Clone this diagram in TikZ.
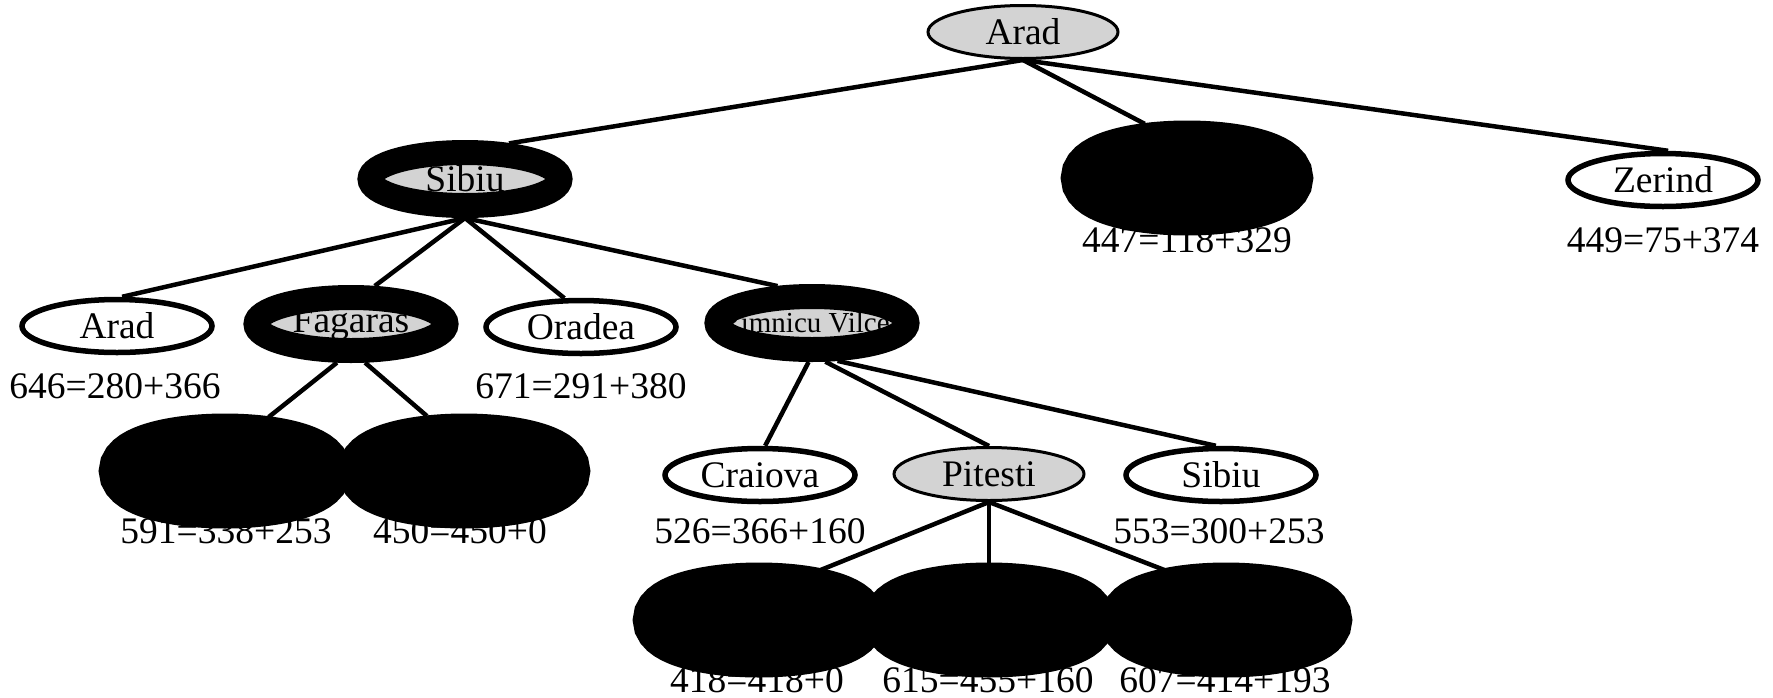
\documentclass[tikz,border=0pt]{standalone}
\usepackage{fontspec}
\setmainfont{Liberation Serif}
\usetikzlibrary{shapes.geometric}
\definecolor{lightgrey}{RGB}{211,211,211}
\tikzset{
    city/.style={
    ellipse,minimum width=95pt,minimum height=26.5pt,inner sep=0pt
    },
    leaf/.style={
    city,draw=black,fill=white,line width=2.75pt
    },
    picked/.style={
    city,draw=black,fill=lightgrey,line width=1.5pt
    },
    opened/.style={
    city,draw=black,fill=lightgrey,line width=12.5pt
    },
    blot/.style={
    city,draw=black,fill=black,line width=31pt
    },
    fval/.style={
    inner sep=0pt
    },
    branch/.style={
    line width=2.25pt
    },
}

\begin{document}
\begin{tikzpicture}[x=0.5pt, y=-0.5pt, font=\fontsize{18.75}{22}\selectfont]
   \useasboundingbox (0,0) rectangle (1773,697);
   % f = g + h
   \node[fval] (ft1) at (1187,240) {447=118+329};
   \node[fval] (fz1) at (1663,240) {449=75+374};
   \node[fval] (fa2) at (115,386) {646=280+366};
   \node[fval] (fo2) at (581,386) {671=291+380};
   \node[fval] (fs3) at (226,531) {591=338+253};
   \node[fval] (fb3) at (460,531) {450=450+0};
   \node[fval] (fc3) at (760,531) {526=366+160};
   \node[fval] (fi3) at (1219,531) {553=300+253};
   \node[fval] (fb4) at (757,680) {418=418+0};
   \node[fval] (fc4) at (988,680) {615=455+160};
   \node[fval] (fr4) at (1225,680) {607=414+193};
   % tree
   \node[picked] (a0) at (1023,32) {Arad};
   \node[opened] (s1) at (465,179) {Sibiu};
   \node[blot] (t1) at (1187,178) {};
   \node[leaf] (z1) at (1663,180) {Zerind};
   \node[leaf] (a2) at (117,326) {Arad};
   \node[opened] (f2) at (351,324) {Fagaras};
   \node[leaf] (o2) at (581,327) {Oradea};
   \node[opened,font=\fontsize{14.5}{17}\selectfont] (r2) at (812,323) {\makebox[0pt]{Rimnicu Vilcea}};
   \node[blot] (s3) at (225,471) {};
   \node[blot] (b3) at (464,471) {};
   \node[leaf] (c3) at (760,475) {Craiova};
   \node[picked] (p3) at (989,474) {Pitesti};
   \node[leaf] (i3) at (1221,475) {Sibiu};
   \node[blot] (b4) at (759,620) {};
   \node[blot] (c4) at (989,620) {};
   \node[blot] (r4) at (1226,620) {};

  \path[branch]
    (a0.south) edge (s1.39)
               edge (t1.128)
               edge (z1.80)
    (s1.south) edge (a2.80)
               edge (f2.58)
               edge (o2.120)
               edge (r2.133)
    (f2.-110) edge (s3.51)
    (f2.-70) edge (b3.124)
    (r2.-95) edge (c3.80)
    (r2.-71) edge (p3.north)
    (r2.-56) edge (i3.100)
    (p3.south) edge (b4.39)
               edge (c4.north)
               edge (r4.141);
  \end{tikzpicture}
\end{document}
